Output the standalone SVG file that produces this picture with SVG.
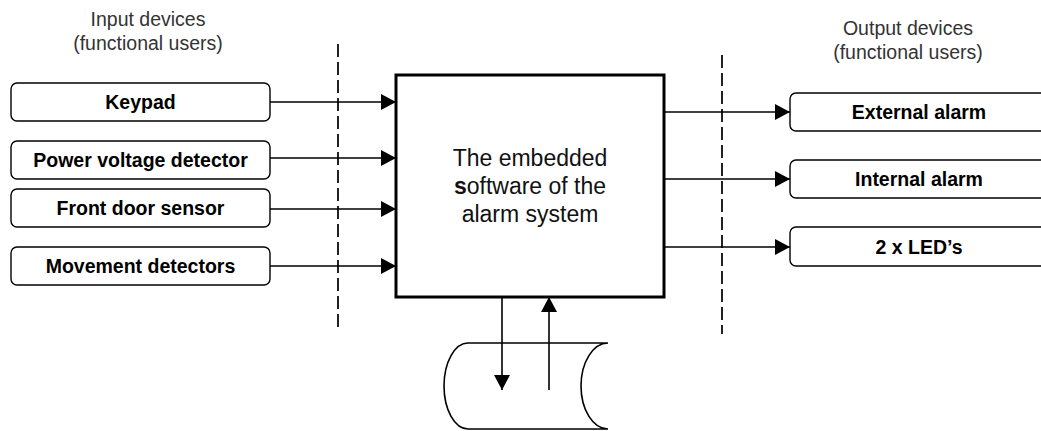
<svg xmlns="http://www.w3.org/2000/svg" width="1041" height="431" viewBox="0 0 1041 431">
<style>
.box{fill:#fff;stroke:#000;stroke-width:1.4}
.lbl{font-family:"Liberation Sans",Arial,sans-serif;font-weight:bold;font-size:19.5px;fill:#000;text-anchor:middle}
.hdr{font-family:"Liberation Sans",Arial,sans-serif;font-size:19.5px;fill:#333;text-anchor:middle}
.main{font-family:"Liberation Sans",Arial,sans-serif;font-size:23px;fill:#111;text-anchor:middle}
.con{fill:none;stroke:#000;stroke-width:1.6}
.dash{fill:none;stroke:#222;stroke-width:2;stroke-dasharray:13 5}
</style>
<defs>
<marker id="ah" viewBox="0 0 15 16" refX="15" refY="8" markerWidth="15" markerHeight="16" markerUnits="userSpaceOnUse" orient="auto">
<path d="M0,0 L15,8 L0,16 Z" fill="#000"/>
</marker>
</defs>
<rect width="1041" height="431" fill="#fff"/>
<text class="hdr" x="148" y="26">Input devices</text>
<text class="hdr" x="148" y="50">(functional users)</text>
<text class="hdr" x="908" y="35">Output devices</text>
<text class="hdr" x="908" y="59">(functional users)</text>
<g id="dashes">
<line class="dash" x1="338" y1="44" x2="338" y2="328"/>
<line class="dash" x1="722" y1="55" x2="722" y2="334"/>
</g>
<g id="connectors">
<line class="con" x1="270" y1="102" x2="396" y2="102" marker-end="url(#ah)"/>
<line class="con" x1="270" y1="158" x2="396" y2="158" marker-end="url(#ah)"/>
<line class="con" x1="270" y1="209" x2="396" y2="209" marker-end="url(#ah)"/>
<line class="con" x1="270" y1="266" x2="396" y2="266" marker-end="url(#ah)"/>
<line class="con" x1="664" y1="112" x2="790" y2="112" marker-end="url(#ah)"/>
<line class="con" x1="664" y1="179" x2="790" y2="179" marker-end="url(#ah)"/>
<line class="con" x1="664" y1="247" x2="790" y2="247" marker-end="url(#ah)"/>
<line class="con" x1="502" y1="297" x2="502" y2="390" marker-end="url(#ah)"/>
<line class="con" x1="549" y1="390" x2="549" y2="297" marker-end="url(#ah)"/>
</g>
<g id="keypad"><rect class="box" x="11" y="83" width="259" height="38" rx="6"/><text class="lbl" x="140.5" y="109">Keypad</text></g>
<g id="power"><rect class="box" x="11" y="141" width="259" height="38" rx="6"/><text class="lbl" x="140.5" y="167">Power voltage detector</text></g>
<g id="frontdoor"><rect class="box" x="11" y="189" width="259" height="38" rx="6"/><text class="lbl" x="140.5" y="215">Front door sensor</text></g>
<g id="movement"><rect class="box" x="11" y="247" width="259" height="38" rx="6"/><text class="lbl" x="140.5" y="273">Movement detectors</text></g>
<g id="main"><rect x="396" y="75" width="268" height="222" fill="#fff" stroke="#000" stroke-width="3"/>
<text class="main" x="530" y="166">The embedded</text>
<text class="main" x="530" y="194"><tspan font-weight="bold">s</tspan>oftware of the</text>
<text class="main" x="530" y="222">alarm system</text></g>
<g id="external"><rect class="box" x="790" y="93" width="260" height="38" rx="6"/><text class="lbl" x="919" y="119">External alarm</text></g>
<g id="internal"><rect class="box" x="790" y="160" width="260" height="38" rx="6"/><text class="lbl" x="919" y="186">Internal alarm</text></g>
<g id="leds"><rect class="box" x="790" y="227" width="260" height="39" rx="6"/><text class="lbl" x="919" y="254">2 x LED’s</text></g>
<g id="storage"><path d="M468,343 L608,343 A27,43 0 0 0 608,429 L468,429 A24,43 0 0 1 468,343 Z" fill="none" stroke="#000" stroke-width="1.6"/></g>
</svg>
